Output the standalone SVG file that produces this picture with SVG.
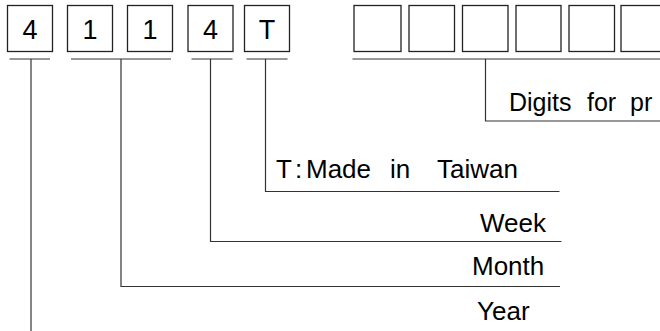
<svg xmlns="http://www.w3.org/2000/svg" width="660" height="331" viewBox="0 0 660 331">
<style>
.box{fill:#fff;stroke:#222;stroke-width:1.3}
.ln{fill:none;stroke:#333;stroke-width:1.2}
.t{font-family:"Liberation Sans",Arial,sans-serif;font-size:26px;fill:#000}
.s{font-size:25px}
.b{font-size:27px;text-anchor:middle}
</style>
<rect width="660" height="331" fill="#fff"/>
<g id="d1"><rect class="box" x="7.5" y="5.5" width="45" height="46"/><text class="t b" x="30" y="39">4</text></g>
<g id="d2"><rect class="box" x="67.5" y="5.5" width="45" height="46"/><text class="t b" x="90" y="39">1</text></g>
<g id="d3"><rect class="box" x="127.5" y="5.5" width="45" height="46"/><text class="t b" x="150" y="39">1</text></g>
<g id="d4"><rect class="box" x="188" y="5.5" width="45" height="46"/><text class="t b" x="210.5" y="39">4</text></g>
<g id="d5"><rect class="box" x="244.5" y="5.5" width="45" height="46"/><text class="t b" x="267" y="39">T</text></g>
<g id="serial">
<rect class="box" x="354" y="5.5" width="47" height="46"/>
<rect class="box" x="409" y="5.5" width="45.5" height="46"/>
<rect class="box" x="462.5" y="5.5" width="45.5" height="46"/>
<rect class="box" x="516" y="5.5" width="45" height="46"/>
<rect class="box" x="569" y="5.5" width="45.5" height="46"/>
<rect class="box" x="621" y="5.5" width="46" height="46"/>
</g>
<g id="connectors">
<path class="ln" d="M9.5 59H50M71 59H171M191.5 59H232.5M246.5 59H287.5M352.5 59H660"/>
<path class="ln" d="M31 59V331"/>
<path class="ln" d="M121 59V286.5H560"/>
<path class="ln" d="M210.5 59V241.5H561.5"/>
<path class="ln" d="M265.5 59V191.5H559.5"/>
<path class="ln" d="M485.5 59V121H660"/>
</g>
<g id="labels">
<text class="t s" y="111"><tspan x="509">Digits</tspan><tspan x="587">for</tspan><tspan x="630">pr</tspan></text>
<text class="t" y="178"><tspan x="276">T</tspan><tspan x="295">:</tspan><tspan x="306">Made</tspan><tspan x="390">in</tspan><tspan x="437">Taiwan</tspan></text>
<text class="t" x="480" y="232">Week</text>
<text class="t" x="472" y="275">Month</text>
<text class="t" x="477" y="320">Year</text>
</g>
</svg>
